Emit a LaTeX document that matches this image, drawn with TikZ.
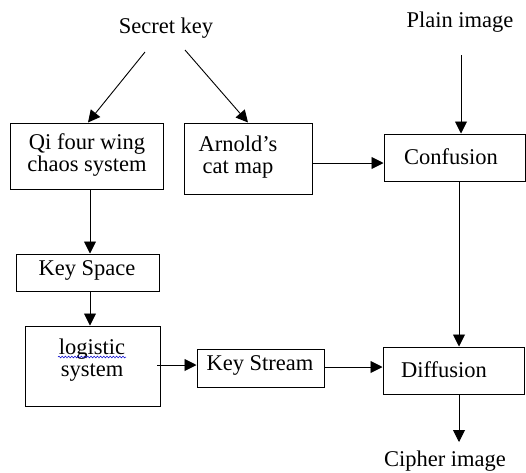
\documentclass[tikz,border=0pt]{standalone}
\usepackage{fontspec}
\setmainfont{Liberation Serif}
\usetikzlibrary{arrows.meta,decorations.pathmorphing}

\tikzset{
  box/.style={draw=black, line width=1pt, inner sep=0pt},
  txt/.style={inner sep=0pt, align=center, font=\fontsize{22.5}{22.5}\selectfont},
  flow/.style={draw=black, line width=0.9pt, -{Triangle[length=12pt,width=12pt]}},
  squiggle/.style={draw=blue!80!black, line width=0.5pt,
    decorate, decoration={snake, amplitude=0.9pt, segment length=3.2pt}}
}

\begin{document}
\begin{tikzpicture}[x=1pt, y=-1pt]
\useasboundingbox (0,0) rectangle (526,472);

% free-standing labels
\node[txt] (key)    at (166,28)  {Secret key};
\node[txt] (plain)  at (460,22)  {Plain image};
\node[txt] (cipher) at (445,461) {Cipher image};

% left column
\node[box, minimum width=153pt, minimum height=66pt] (qi) at (86.5,156) {};
\node[txt] (qi-t) at (87,155) {Qi four wing\\chaos system};

\node[box, minimum width=143pt, minimum height=37pt] (space) at (87.5,272.5) {};
\node[txt] (space-t) at (87,270) {Key Space};

\node[box, minimum width=135pt, minimum height=80pt] (logistic) at (92.5,366) {};
\node[txt] (logistic-t) at (92,360) {logistic\\system};
\coordinate (sq-a) at (58,357);
\coordinate (sq-b) at (126,357);
\draw[squiggle] (sq-a) -- (sq-b);

% middle column
\node[box, minimum width=128pt, minimum height=71pt] (arnold) at (248,158.5) {};
\node[txt] (arnold-t) at (238,157) {Arnold's\\cat map};

\node[box, minimum width=127pt, minimum height=38pt] (stream) at (260.5,368) {};
\node[txt] (stream-t) at (260,365) {Key Stream};

% right column
\node[box, minimum width=141pt, minimum height=47pt] (conf) at (454.5,157.5) {};
\node[txt] (conf-t) at (451,157) {Confusion};

\node[box, minimum width=141pt, minimum height=47pt] (diff) at (453.5,370.5) {};
\node[txt] (diff-t) at (444,370) {Diffusion};

% connectors
\coordinate (k1) at (145,52);
\coordinate (k2) at (185,50);
\draw[flow] (k1) -- (qi.north -| 88,0);
\draw[flow] (k2) -- (arnold.north -| 248,0);

\coordinate (p1) at (461,55);
\draw[flow] (p1) -- (conf.north -| p1);

\draw[flow] (qi.south -| 90,0) -- (space.north -| 90,0);
\draw[flow] (space.south -| 90,0) -- (logistic.north -| 90,0);

\draw[flow] (arnold.east |- 0,163) -- (conf.west |- 0,163);
\draw[flow] (conf.south -| 459,0) -- (diff.north -| 459,0);

\coordinate (l1) at (157,365);
\draw[flow] (l1) -- (stream.west |- l1);
\draw[flow] (stream.east |- 0,367) -- (diff.west |- 0,367);

\coordinate (c1) at (459,442);
\draw[flow] (diff.south -| 459,0) -- (c1);
\end{tikzpicture}
\end{document}
